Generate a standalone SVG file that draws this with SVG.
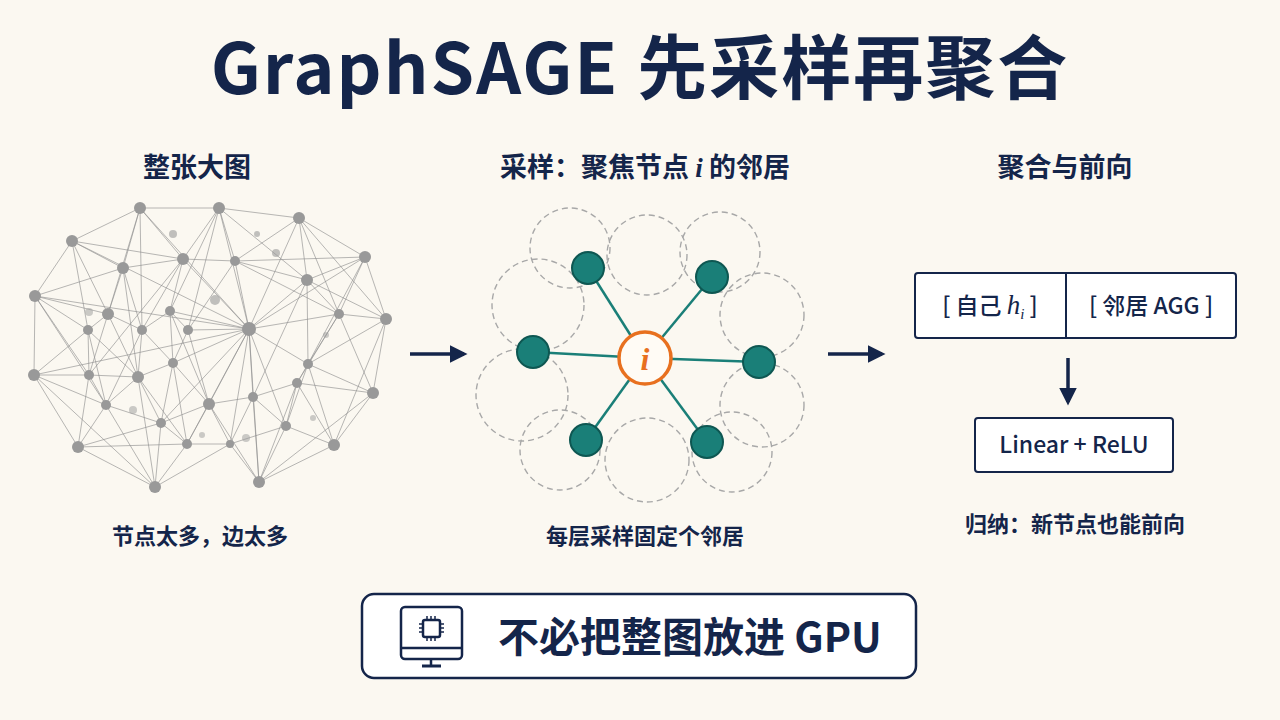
<svg xmlns="http://www.w3.org/2000/svg" width="1280" height="720" viewBox="0 0 1280 720">
<defs>
<style>
.t{font-family:"Noto Sans CJK SC","Noto Sans",sans-serif;fill:#14254A}
.e line{stroke:#8f8f8f;stroke-width:0.9;opacity:0.7}
.g circle{fill:#999;stroke:none}
.dc{fill:none;stroke:#a8a8a8;stroke-width:1.4;stroke-dasharray:6 4}
.sp{stroke:#1A7F78;stroke-width:2.5}
.nb{fill:#1A7F78;stroke:#0E5752;stroke-width:2}
.box{fill:#fff;stroke:#14254A;stroke-width:2}
.ar{stroke:#14254A;stroke-width:3.5;fill:none}
</style>
<marker id="ah" viewBox="0 0 10 10" refX="8" refY="5" markerWidth="5" markerHeight="5" orient="auto"><path d="M0,0L10,5L0,10z" fill="#14254A"/></marker>
</defs>
<rect width="1280" height="720" fill="#FBF8F1"/>
<text class="t" x="640" y="94" font-size="70" font-weight="700" text-anchor="middle" letter-spacing="2">GraphSAGE 先采样再聚合</text>
<g id="headings" font-size="27" font-weight="700">
<text class="t" x="197" y="177" text-anchor="middle">整张大图</text>
<text class="t" x="645" y="177" text-anchor="middle">采样：聚焦节点 <tspan font-family="Liberation Serif,serif" font-style="italic">i</tspan> 的邻居</text>
<text class="t" x="1065" y="177" text-anchor="middle">聚合与前向</text>
</g>
<g id="captions" font-size="22" font-weight="700">
<text class="t" x="200" y="544" text-anchor="middle">节点太多，边太多</text>
<text class="t" x="645" y="544" text-anchor="middle">每层采样固定个邻居</text>
<text class="t" x="1075" y="532" text-anchor="middle">归纳：新节点也能前向</text>
</g>
<g id="big-graph">
<g class="e" id="big-graph-edges">
<line x1="140" y1="208" x2="219" y2="208"/><line x1="140" y1="208" x2="72" y2="241"/><line x1="140" y1="208" x2="183" y2="259"/><line x1="140" y1="208" x2="123" y2="268"/><line x1="140" y1="208" x2="108" y2="314"/><line x1="140" y1="208" x2="142" y2="330"/><line x1="140" y1="208" x2="249" y2="329"/>
<line x1="219" y1="208" x2="299" y2="218"/><line x1="219" y1="208" x2="183" y2="259"/><line x1="219" y1="208" x2="235" y2="261"/><line x1="219" y1="208" x2="249" y2="329"/><line x1="219" y1="208" x2="170" y2="311"/><line x1="219" y1="208" x2="188" y2="330"/><line x1="219" y1="208" x2="307" y2="280"/>
<line x1="299" y1="218" x2="365" y2="257"/><line x1="299" y1="218" x2="235" y2="261"/><line x1="299" y1="218" x2="307" y2="280"/><line x1="299" y1="218" x2="249" y2="329"/><line x1="299" y1="218" x2="339" y2="314"/><line x1="299" y1="218" x2="386" y2="319"/>
<line x1="72" y1="241" x2="123" y2="268"/><line x1="72" y1="241" x2="35" y2="296"/><line x1="72" y1="241" x2="108" y2="314"/><line x1="72" y1="241" x2="88" y2="330"/><line x1="72" y1="241" x2="249" y2="329"/><line x1="72" y1="241" x2="183" y2="259"/>
<line x1="365" y1="257" x2="307" y2="280"/><line x1="365" y1="257" x2="339" y2="314"/><line x1="365" y1="257" x2="386" y2="319"/><line x1="365" y1="257" x2="308" y2="364"/><line x1="365" y1="257" x2="249" y2="329"/><line x1="365" y1="257" x2="235" y2="261"/>
<line x1="183" y1="259" x2="123" y2="268"/><line x1="183" y1="259" x2="170" y2="311"/><line x1="183" y1="259" x2="249" y2="329"/><line x1="183" y1="259" x2="142" y2="330"/><line x1="183" y1="259" x2="89" y2="375"/><line x1="183" y1="259" x2="235" y2="261"/>
<line x1="123" y1="268" x2="108" y2="314"/><line x1="123" y1="268" x2="142" y2="330"/><line x1="123" y1="268" x2="35" y2="296"/><line x1="123" y1="268" x2="138" y2="377"/>
<line x1="235" y1="261" x2="249" y2="329"/><line x1="235" y1="261" x2="307" y2="280"/><line x1="235" y1="261" x2="188" y2="330"/><line x1="235" y1="261" x2="339" y2="314"/>
<line x1="307" y1="280" x2="249" y2="329"/><line x1="307" y1="280" x2="339" y2="314"/><line x1="307" y1="280" x2="308" y2="364"/><line x1="307" y1="280" x2="386" y2="319"/><line x1="307" y1="280" x2="253" y2="397"/>
<line x1="35" y1="296" x2="108" y2="314"/><line x1="35" y1="296" x2="88" y2="330"/><line x1="35" y1="296" x2="34" y2="375"/><line x1="35" y1="296" x2="89" y2="375"/><line x1="35" y1="296" x2="106" y2="405"/>
<line x1="108" y1="314" x2="88" y2="330"/><line x1="108" y1="314" x2="142" y2="330"/><line x1="108" y1="314" x2="138" y2="377"/><line x1="108" y1="314" x2="89" y2="375"/>
<line x1="170" y1="311" x2="249" y2="329"/><line x1="170" y1="311" x2="142" y2="330"/><line x1="170" y1="311" x2="188" y2="330"/><line x1="170" y1="311" x2="173" y2="363"/><line x1="170" y1="311" x2="209" y2="404"/>
<line x1="249" y1="329" x2="339" y2="314"/><line x1="249" y1="329" x2="188" y2="330"/><line x1="249" y1="329" x2="173" y2="363"/><line x1="249" y1="329" x2="308" y2="364"/><line x1="249" y1="329" x2="209" y2="404"/><line x1="249" y1="329" x2="253" y2="397"/><line x1="249" y1="329" x2="286" y2="426"/><line x1="249" y1="329" x2="230" y2="444"/><line x1="249" y1="329" x2="161" y2="423"/><line x1="249" y1="329" x2="187" y2="444"/><line x1="249" y1="329" x2="34" y2="375"/><line x1="249" y1="329" x2="35" y2="296"/><line x1="249" y1="329" x2="259" y2="482"/>
<line x1="339" y1="314" x2="386" y2="319"/><line x1="339" y1="314" x2="308" y2="364"/><line x1="339" y1="314" x2="373" y2="393"/><line x1="339" y1="314" x2="297" y2="383"/>
<line x1="386" y1="319" x2="373" y2="393"/><line x1="386" y1="319" x2="308" y2="364"/><line x1="386" y1="319" x2="334" y2="445"/>
<line x1="88" y1="330" x2="34" y2="375"/><line x1="88" y1="330" x2="89" y2="375"/><line x1="88" y1="330" x2="106" y2="405"/><line x1="88" y1="330" x2="138" y2="377"/>
<line x1="142" y1="330" x2="138" y2="377"/><line x1="142" y1="330" x2="173" y2="363"/><line x1="142" y1="330" x2="106" y2="405"/><line x1="188" y1="330" x2="173" y2="363"/><line x1="188" y1="330" x2="209" y2="404"/>
<line x1="34" y1="375" x2="89" y2="375"/><line x1="34" y1="375" x2="106" y2="405"/><line x1="34" y1="375" x2="78" y2="447"/><line x1="34" y1="375" x2="155" y2="487"/>
<line x1="89" y1="375" x2="138" y2="377"/><line x1="89" y1="375" x2="106" y2="405"/><line x1="89" y1="375" x2="78" y2="447"/>
<line x1="138" y1="377" x2="173" y2="363"/><line x1="138" y1="377" x2="106" y2="405"/><line x1="138" y1="377" x2="161" y2="423"/><line x1="138" y1="377" x2="155" y2="487"/><line x1="138" y1="377" x2="187" y2="444"/>
<line x1="173" y1="363" x2="209" y2="404"/><line x1="173" y1="363" x2="161" y2="423"/><line x1="173" y1="363" x2="187" y2="444"/>
<line x1="308" y1="364" x2="297" y2="383"/><line x1="308" y1="364" x2="373" y2="393"/><line x1="308" y1="364" x2="286" y2="426"/><line x1="308" y1="364" x2="334" y2="445"/>
<line x1="297" y1="383" x2="253" y2="397"/><line x1="297" y1="383" x2="286" y2="426"/><line x1="297" y1="383" x2="373" y2="393"/><line x1="297" y1="383" x2="334" y2="445"/><line x1="297" y1="383" x2="259" y2="482"/>
<line x1="209" y1="404" x2="253" y2="397"/><line x1="209" y1="404" x2="161" y2="423"/><line x1="209" y1="404" x2="230" y2="444"/><line x1="209" y1="404" x2="187" y2="444"/><line x1="209" y1="404" x2="259" y2="482"/>
<line x1="253" y1="397" x2="286" y2="426"/><line x1="253" y1="397" x2="230" y2="444"/><line x1="253" y1="397" x2="259" y2="482"/>
<line x1="106" y1="405" x2="161" y2="423"/><line x1="106" y1="405" x2="78" y2="447"/><line x1="106" y1="405" x2="155" y2="487"/>
<line x1="161" y1="423" x2="78" y2="447"/><line x1="161" y1="423" x2="155" y2="487"/><line x1="161" y1="423" x2="187" y2="444"/>
<line x1="286" y1="426" x2="230" y2="444"/><line x1="286" y1="426" x2="259" y2="482"/><line x1="286" y1="426" x2="334" y2="445"/>
<line x1="78" y1="447" x2="155" y2="487"/><line x1="78" y1="447" x2="187" y2="444"/><line x1="230" y1="444" x2="259" y2="482"/><line x1="230" y1="444" x2="187" y2="444"/><line x1="230" y1="444" x2="155" y2="487"/><line x1="155" y1="487" x2="187" y2="444"/>
<line x1="259" y1="482" x2="334" y2="445"/><line x1="259" y1="482" x2="373" y2="393"/><line x1="334" y1="445" x2="373" y2="393"/>
</g>
<g class="g">
<circle cx="140" cy="208" r="6"/><circle cx="219" cy="208" r="6"/><circle cx="299" cy="218" r="6"/><circle cx="72" cy="241" r="6"/><circle cx="365" cy="257" r="6"/><circle cx="183" cy="259" r="6"/><circle cx="123" cy="268" r="6"/><circle cx="235" cy="261" r="5"/><circle cx="307" cy="280" r="6"/><circle cx="35" cy="296" r="6"/><circle cx="108" cy="314" r="6"/><circle cx="170" cy="311" r="5"/><circle cx="249" cy="329" r="7"/><circle cx="339" cy="314" r="5"/><circle cx="386" cy="319" r="6"/><circle cx="88" cy="330" r="5"/><circle cx="142" cy="330" r="5"/><circle cx="188" cy="330" r="5"/><circle cx="34" cy="375" r="6"/><circle cx="89" cy="375" r="5"/><circle cx="138" cy="377" r="6"/><circle cx="173" cy="363" r="5"/><circle cx="308" cy="364" r="5"/><circle cx="297" cy="383" r="5"/><circle cx="209" cy="404" r="6"/><circle cx="253" cy="397" r="5"/><circle cx="106" cy="405" r="5"/><circle cx="161" cy="423" r="5"/><circle cx="286" cy="426" r="5"/><circle cx="78" cy="447" r="6"/><circle cx="230" cy="444" r="4"/><circle cx="155" cy="487" r="6"/><circle cx="259" cy="482" r="6"/><circle cx="334" cy="445" r="6"/><circle cx="373" cy="393" r="6"/><circle cx="187" cy="444" r="5"/>
<circle cx="173" cy="234" r="4" opacity="0.6"/><circle cx="257" cy="234" r="3" opacity="0.6"/><circle cx="276" cy="253" r="4" opacity="0.6"/><circle cx="215" cy="300" r="5" opacity="0.6"/><circle cx="89" cy="312" r="4" opacity="0.5"/><circle cx="326" cy="335" r="3" opacity="0.5"/><circle cx="133" cy="410" r="4" opacity="0.5"/><circle cx="202" cy="435" r="3" opacity="0.5"/><circle cx="246" cy="438" r="4" opacity="0.5"/><circle cx="313" cy="418" r="3" opacity="0.5"/>
</g>
</g>
<g id="connectors">
<line class="ar" x1="410" y1="354" x2="464" y2="354" marker-end="url(#ah)"/>
<line class="ar" x1="828" y1="354" x2="882" y2="354" marker-end="url(#ah)"/>
<line class="ar" x1="1068" y1="358" x2="1068" y2="402" marker-end="url(#ah)"/>
</g>
<g id="sample-graph">
<g id="dashed-rings">
<circle class="dc" cx="570" cy="248" r="40"/><circle class="dc" cx="647" cy="255" r="40"/><circle class="dc" cx="720" cy="252" r="40"/><circle class="dc" cx="538" cy="305" r="46"/><circle class="dc" cx="762" cy="315" r="42"/><circle class="dc" cx="522" cy="395" r="46"/><circle class="dc" cx="762" cy="405" r="42"/><circle class="dc" cx="560" cy="450" r="40"/><circle class="dc" cx="647" cy="460" r="42"/><circle class="dc" cx="732" cy="452" r="40"/>
</g>
<line class="sp" x1="645" y1="358" x2="588" y2="268"/><line class="sp" x1="645" y1="358" x2="712" y2="277"/><line class="sp" x1="645" y1="358" x2="533" y2="352"/><line class="sp" x1="645" y1="358" x2="759" y2="362"/><line class="sp" x1="645" y1="358" x2="586" y2="440"/><line class="sp" x1="645" y1="358" x2="707" y2="442"/>
<g id="neighbor-nodes">
<circle class="nb" cx="588" cy="268" r="16"/><circle class="nb" cx="712" cy="277" r="16"/><circle class="nb" cx="533" cy="352" r="16"/><circle class="nb" cx="759" cy="362" r="16"/><circle class="nb" cx="586" cy="440" r="16"/><circle class="nb" cx="707" cy="442" r="16"/>
</g>
<g id="node-i">
<circle cx="645" cy="358" r="26" fill="#FFFBF5" stroke="#E8701F" stroke-width="3.5"/>
<text x="645" y="370" font-family="Liberation Serif,serif" font-style="italic" font-weight="700" font-size="32" fill="#E8701F" text-anchor="middle">i</text>
</g>
</g>
<g id="concat-box">
<rect class="box" x="915" y="273" width="321" height="65" rx="3"/>
<line x1="1066" y1="273" x2="1066" y2="338" stroke="#14254A" stroke-width="2"/>
<text class="t" x="990" y="314" font-size="23" font-weight="500" text-anchor="middle">[ 自己 <tspan font-family="Liberation Serif,serif" font-style="italic" font-size="27">h</tspan><tspan font-family="Liberation Serif,serif" font-style="italic" font-size="15" dy="5">i</tspan><tspan dy="-5"> ]</tspan></text>
<text class="t" x="1151" y="314" font-size="23" font-weight="500" text-anchor="middle">[ 邻居 AGG ]</text>
</g>
<g id="linear-box">
<rect class="box" x="975" y="418" width="198" height="54" rx="3"/>
<text class="t" x="1074" y="453" font-size="23" font-weight="500" text-anchor="middle">Linear + ReLU</text>
</g>
<g id="gpu-box">
<rect x="362" y="594" width="554" height="84" rx="12" fill="#fff" stroke="#14254A" stroke-width="2.5"/>
<g fill="none" stroke="#14254A" stroke-width="2.5">
<rect x="401" y="607" width="61" height="52" rx="4"/>
<line x1="401" y1="648" x2="462" y2="648"/>
<line x1="422" y1="666" x2="441" y2="666" stroke-width="3"/>
<line x1="431" y1="659" x2="431" y2="666"/>
<rect x="423" y="620" width="17" height="17" rx="2"/>
<path d="M427,616v4M431,616v4M435,616v4M427,637v4M431,637v4M435,637v4M419,624h4M419,628h4M419,632h4M440,624h4M440,628h4M440,632h4" stroke-width="1.5"/>
</g>
<text class="t" x="498" y="652" font-size="41" font-weight="700">不必把整图放进 GPU</text>
</g>
</svg>
